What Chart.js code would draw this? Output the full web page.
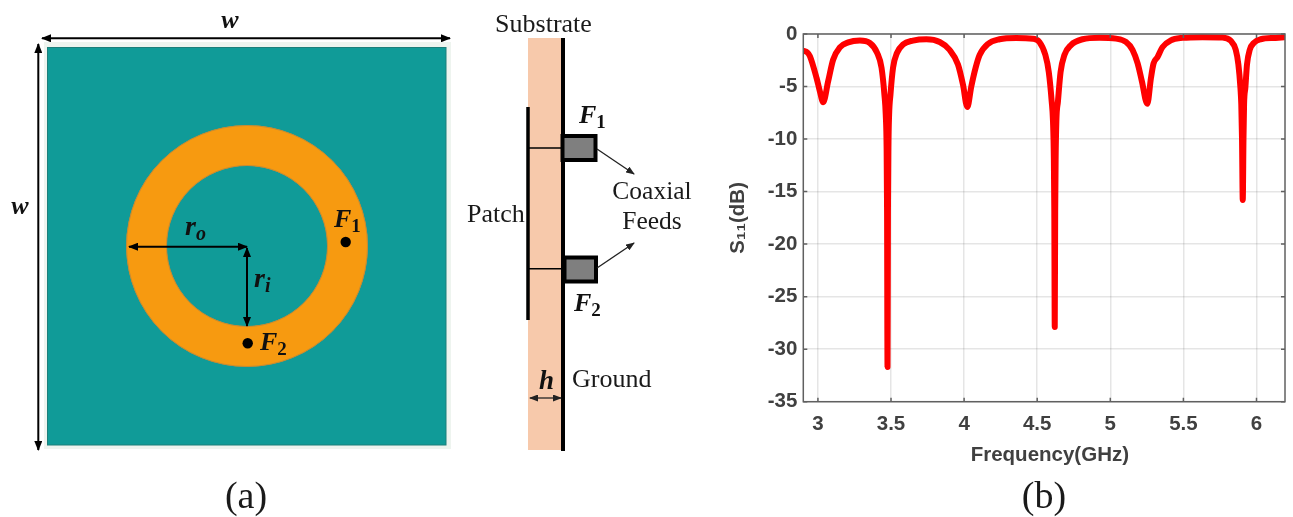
<!DOCTYPE html>
<html lang="en">

<head>
    <meta charset="UTF-8">
    <title>Ring patch antenna and S11</title>
    <style>
        html, body { margin: 0; padding: 0; background: #fff; }
        body { width: 1293px; height: 517px; position: relative; overflow: hidden; }
        #diagram { position: absolute; left: 0; top: 0; filter: blur(0.35px); }
        #chartBox { position: absolute; left: 726px; top: 0; width: 567px; height: 517px; filter: blur(0.4px); }
        .serif { font-family: "Liberation Serif", serif; fill: #1a1a1a; }
        .math { font-family: "Liberation Serif", serif; font-weight: bold; font-style: italic; fill: #111; }
        .sub { font-style: normal; }
    </style>
</head>

<body>
    <!-- antenna drawing -->
    <svg id="diagram" width="1293" height="517" xmlns="http://www.w3.org/2000/svg">
        <defs>
            <marker id="head" markerWidth="10" markerHeight="8" refX="9" refY="4" orient="auto-start-reverse" markerUnits="userSpaceOnUse">
                <path d="M0,0 L10,4 L0,8 Z" fill="#000"/>
            </marker>
            <marker id="headSmall" markerWidth="9" markerHeight="7" refX="8" refY="3.5" orient="auto-start-reverse" markerUnits="userSpaceOnUse">
                <path d="M0,0 L9,3.5 L0,7 Z" fill="#222"/>
            </marker>
        </defs>

        <!-- top view -->
        <rect x="44" y="42" width="407" height="407" fill="#eef4ef"/>
        <rect x="47.5" y="47.5" width="398.5" height="397.5" fill="#109b98" stroke="#1c7f7b" stroke-width="1"/>
        <circle cx="247" cy="246" r="100.5" fill="none" stroke="#f79a10" stroke-width="40.5"/>
        <circle cx="247" cy="246" r="120.5" fill="none" stroke="#c58a35" stroke-width="1"/>
        <circle cx="247" cy="246" r="80.5" fill="none" stroke="#c58a35" stroke-width="1"/>
        <circle cx="345.7" cy="242" r="5.2" fill="#000"/>
        <circle cx="247.7" cy="343.3" r="5.2" fill="#000"/>

        <line x1="42" y1="38.3" x2="450" y2="38.3" stroke="#000" stroke-width="2" marker-start="url(#head)" marker-end="url(#head)"/>
        <line x1="38.3" y1="44" x2="38.3" y2="450" stroke="#000" stroke-width="2" marker-start="url(#head)" marker-end="url(#head)"/>
        <line x1="129" y1="246.7" x2="247" y2="246.7" stroke="#000" stroke-width="2" marker-start="url(#head)" marker-end="url(#head)"/>
        <line x1="247" y1="248" x2="247" y2="326" stroke="#000" stroke-width="2" marker-start="url(#head)" marker-end="url(#head)"/>

        <text class="math" x="230" y="28" font-size="26" text-anchor="middle">w</text>
        <text class="math" x="20" y="214" font-size="26" text-anchor="middle">w</text>
        <text class="math" x="185" y="235" font-size="28">r<tspan font-size="20" dy="5">o</tspan></text>
        <text class="math" x="254" y="287" font-size="28">r<tspan font-size="20" dy="5">i</tspan></text>
        <text class="math" x="334" y="227" font-size="26">F<tspan class="sub" font-size="19" dy="5">1</tspan></text>
        <text class="math" x="260" y="350" font-size="26">F<tspan class="sub" font-size="19" dy="5">2</tspan></text>

        <!-- side view -->
        <rect x="528" y="38" width="35" height="412" fill="#f7c9ab"/>
        <line x1="563" y1="38" x2="563" y2="451" stroke="#000" stroke-width="4"/>
        <line x1="528" y1="107" x2="528" y2="320" stroke="#000" stroke-width="3.5"/>
        <line x1="528" y1="148" x2="563" y2="148" stroke="#000" stroke-width="1.5"/>
        <line x1="528" y1="268.7" x2="563" y2="268.7" stroke="#000" stroke-width="1.5"/>
        <rect x="562.5" y="136" width="33" height="24" fill="#7f7f7f" stroke="#000" stroke-width="4"/>
        <rect x="564.5" y="257.5" width="31.5" height="24" fill="#7f7f7f" stroke="#000" stroke-width="4"/>
        <line x1="597" y1="149" x2="634" y2="174" stroke="#222" stroke-width="1.3" marker-end="url(#headSmall)"/>
        <line x1="597" y1="268" x2="634" y2="243" stroke="#222" stroke-width="1.3" marker-end="url(#headSmall)"/>
        <line x1="530" y1="398" x2="561" y2="398" stroke="#222" stroke-width="1.3" marker-start="url(#headSmall)" marker-end="url(#headSmall)"/>

        <text class="serif" x="543.5" y="32" font-size="26" text-anchor="middle">Substrate</text>
        <text class="serif" x="496" y="222" font-size="26" text-anchor="middle">Patch</text>
        <text class="serif" x="652" y="199" font-size="25.5" text-anchor="middle">Coaxial</text>
        <text class="serif" x="652" y="229" font-size="25.5" text-anchor="middle">Feeds</text>
        <text class="serif" x="572" y="387" font-size="26">Ground</text>
        <text class="math" x="579" y="123" font-size="26">F<tspan class="sub" font-size="19" dy="5">1</tspan></text>
        <text class="math" x="574" y="311" font-size="26">F<tspan class="sub" font-size="19" dy="5">2</tspan></text>
        <text class="math" x="539" y="389" font-size="27">h</text>

        <text class="serif" x="246" y="508" font-size="38" text-anchor="middle">(a)</text>
        <text class="serif" x="1044" y="508" font-size="38" text-anchor="middle">(b)</text>
    </svg>

    <div id="chartBox"><canvas id="myChart" width="567" height="517"></canvas></div>

    <script src="https://cdn.jsdelivr.net/npm/chart.js"></script>
    <script>
        const freq = [2.90, 2.927, 2.945, 2.991, 3.014, 3.036, 3.07, 3.104, 3.15, 3.207, 3.287, 3.355, 3.405, 3.435, 3.455, 3.464, 3.47, 3.473, 3.476,
            3.479, 3.482, 3.487, 3.496, 3.514, 3.541, 3.582, 3.65, 3.742, 3.833, 3.90, 3.958, 3.992, 4.022,
            4.049, 4.079, 4.106, 4.163, 4.242, 4.356, 4.47, 4.515, 4.556, 4.579, 4.599, 4.608, 4.614, 4.617, 4.62,
            4.623, 4.626, 4.631, 4.642, 4.66, 4.686, 4.731, 4.81, 4.925, 5.039, 5.107, 5.152, 5.187, 5.216, 5.253,
            5.278, 5.296, 5.323, 5.357, 5.414, 5.494, 5.63, 5.767, 5.824, 5.858, 5.876, 5.89, 5.896, 5.901, 5.906,
            5.911, 5.915, 5.924, 5.935, 5.954, 5.983, 6.029, 6.13, 6.19];
        const s11 = [-1.6, -1.75, -2.1, -4.2, -5.5, -6.5, -4.5, -2.45, -1.27, -0.8, -0.63, -0.86, -1.8, -3.2, -5.8, -7.7, -11, -17, -31.7,
            -17, -11, -7.7, -5.8, -3.2, -1.8, -1.0, -0.63, -0.5, -0.76, -1.5, -2.9, -4.8, -6.95,
            -5.0, -3.2, -2.0, -0.95, -0.5, -0.37, -0.45, -0.76, -2.0, -3.6, -6.4, -8.3, -12, -17, -27.9,
            -17, -12, -8.3, -6.4, -3.6, -2.0, -1.05, -0.5, -0.35, -0.44, -0.75, -1.5, -2.8, -4.5, -6.65,
            -4.2, -2.8, -2.2, -1.25, -0.6, -0.37, -0.3, -0.33, -0.65, -1.5, -2.9, -5.1, -6.7, -10, -15.8,
            -10, -6.7, -5.1, -2.9, -1.5, -0.83, -0.5, -0.37, -0.3];
        const xTickValues = [3, 3.5, 4, 4.5, 5, 5.5, 6];
        const yTickValues = [0, -5, -10, -15, -20, -25, -30, -35];

        const axisColor = '#404040';

        // MATLAB style box with ticks pointing inward on all four sides
        const boxPlugin = {
            id: 'boxPlugin',
            afterDatasetsDraw(chart) {
                const { ctx, chartArea: a, scales } = chart;
                ctx.save();
                ctx.strokeStyle = '#606060';
                ctx.lineWidth = 1.5;
                ctx.strokeRect(a.left, a.top, a.right - a.left, a.bottom - a.top);
                ctx.beginPath();
                xTickValues.forEach(v => {
                    const x = scales.x.getPixelForValue(v);
                    ctx.moveTo(x, a.bottom); ctx.lineTo(x, a.bottom - 4);
                    ctx.moveTo(x, a.top); ctx.lineTo(x, a.top + 4);
                });
                yTickValues.forEach(v => {
                    const y = scales.y.getPixelForValue(v);
                    ctx.moveTo(a.left, y); ctx.lineTo(a.left + 4, y);
                    ctx.moveTo(a.right, y); ctx.lineTo(a.right - 4, y);
                });
                ctx.stroke();
                ctx.restore();
            }
        };

        new Chart(document.getElementById('myChart'), {
            type: 'scatter',
            data: {
                datasets: [{
                    label: 'S11',
                    data: freq.map((f, i) => ({ x: f, y: s11[i] })),
                    showLine: true,
                    borderColor: '#ff0000',
                    borderWidth: 6,
                    borderCapStyle: 'round',
                    borderJoinStyle: 'round',
                    cubicInterpolationMode: 'monotone',
                    pointRadius: 0
                }]
            },
            options: {
                responsive: false,
                animation: false,
                layout: { padding: { top: 34, right: 8, bottom: 49, left: 0 } },
                plugins: { legend: { display: false }, tooltip: { enabled: false } },
                scales: {
                    x: {
                        type: 'linear',
                        min: 2.9,
                        max: 6.195,
                        afterBuildTicks: s => { s.ticks = xTickValues.map(v => ({ value: v })); },
                        afterFit: s => { s.height = 66.3; },
                        grid: { color: 'rgba(0,0,0,0.1)', lineWidth: 1.5, drawTicks: false },
                        border: { display: false },
                        ticks: {
                            color: axisColor,
                            padding: 10,
                            maxRotation: 0,
                            autoSkip: false,
                            font: { family: 'Liberation Sans', size: 20.5, weight: 'bold' },
                            callback: v => String(v)
                        },
                        title: {
                            display: true,
                            text: '  Frequency(GHz)',
                            color: axisColor,
                            padding: { top: 6, bottom: 0 },
                            font: { family: 'Liberation Sans', size: 20.5, weight: 'bold' }
                        }
                    },
                    y: {
                        min: -35,
                        max: 0,
                        afterBuildTicks: s => { s.ticks = yTickValues.map(v => ({ value: v })); },
                        afterFit: s => { s.width = 77.3; },
                        grid: { color: 'rgba(0,0,0,0.1)', lineWidth: 1.5, drawTicks: false },
                        border: { display: false },
                        ticks: {
                            color: axisColor,
                            padding: 6,
                            autoSkip: false,
                            font: { family: 'Liberation Sans', size: 20.5, weight: 'bold' },
                            callback: v => String(v)
                        },
                        title: {
                            display: true,
                            text: 'S₁₁(dB)',
                            color: axisColor,
                            padding: { top: 0, bottom: 0 },
                            font: { family: 'Liberation Sans', size: 20.5, weight: 'bold' }
                        }
                    }
                }
            },
            plugins: [boxPlugin]
        });
    </script>
</body>

</html>
